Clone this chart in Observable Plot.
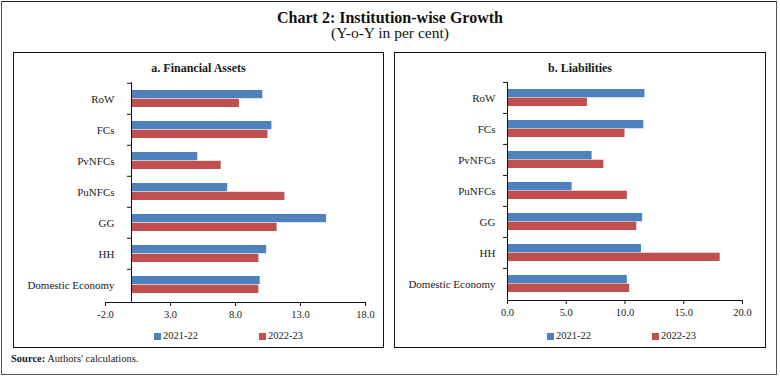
<!DOCTYPE html>
<html><head><meta charset="utf-8">
<script src="https://cdn.jsdelivr.net/npm/d3@7"></script>
<script src="https://cdn.jsdelivr.net/npm/@observablehq/plot@0.6"></script>
<style>
body{margin:0;background:#fff;}
#root{position:relative;width:780px;height:380px;font-family:"Liberation Serif",serif;color:#1a1a1a;overflow:hidden;}
.abs{position:absolute;white-space:nowrap;line-height:1;}
.box{position:absolute;box-sizing:border-box;}
.sq{position:absolute;width:7px;height:7px;}
</style></head><body>
<div id="root">
  <div class="box" style="left:1px;top:1px;width:776px;height:374px;border:1.5px solid #555;border-top-color:#222;"></div>
  <div class="abs" id="title" style="left:0;width:780px;text-align:center;top:10px;font-size:16px;font-weight:bold;color:#111;"></div>
  <div class="abs" id="subtitle" style="left:0;width:780px;text-align:center;top:25.4px;font-size:15.5px;color:#111;"></div>
  <div class="box" style="left:13px;top:52px;width:371px;height:296px;border:1.5px solid #111;"></div>
  <div class="box" style="left:394px;top:52px;width:372px;height:296px;border:1.5px solid #111;"></div>
  <div class="abs" id="ptA" style="left:13px;width:371px;text-align:center;top:61.6px;font-size:12px;font-weight:bold;"></div>
  <div class="abs" id="ptB" style="left:394px;width:372px;text-align:center;top:61.6px;font-size:12px;font-weight:bold;"></div>
  <div id="chartA" style="position:absolute;left:14px;top:60px;"></div>
  <div id="chartB" style="position:absolute;left:395px;top:60px;"></div>
  <div id="legA"></div>
  <div id="legB"></div>
  <div class="abs" id="source" style="left:11px;top:354.2px;font-size:10.5px;"></div>
</div>
<script>
const titleText = "Chart 2: Institution-wise Growth";
const subtitleText = "(Y-o-Y in per cent)";
const panelTitles = ["a. Financial Assets", "b. Liabilities"];
const categories = ["RoW", "FCs", "PvNFCs", "PuNFCs", "GG", "HH", "Domestic Economy"];
const series = ["2021-22", "2022-23"];
const colors = ["#4F81BD", "#C0504D"];
const assets2122 = [10.1, 10.8, 5.1, 7.4, 15.0, 10.4, 9.9];
const assets2223 = [8.3, 10.5, 6.9, 11.8, 11.2, 9.8, 9.8];
const liab2122 = [11.7, 11.6, 7.2, 5.5, 11.5, 11.4, 10.2];
const liab2223 = [6.8, 10.0, 8.2, 10.2, 11.0, 18.1, 10.4];
const assetDomain = [-2, 18];
const assetTicks = [-2, 3, 8, 13, 18];
const liabDomain = [0, 20];
const liabTicks = [0, 5, 10, 15, 20];

document.getElementById("title").textContent = titleText;
document.getElementById("subtitle").textContent = subtitleText;
document.getElementById("ptA").textContent = panelTitles[0];
document.getElementById("ptB").textContent = panelTitles[1];
document.getElementById("source").innerHTML = "<b>Source:</b> Authors' calculations.";

function rows(a, b) {
  const out = [];
  categories.forEach((c, i) => {
    out.push({cat: c, series: series[0], value: a[i]});
    out.push({cat: c, series: series[1], value: b[i]});
  });
  return out;
}

function panel(cfg) {
  const data = rows(cfg.a, cfg.b);
  const pad = 0.44;
  const step = (cfg.height - cfg.mt - cfg.mb) / categories.length;
  const half = step * (1 - pad) / 2;
  return Plot.plot({
    width: cfg.width, height: cfg.height,
    marginTop: cfg.mt, marginBottom: cfg.mb, marginLeft: cfg.ml, marginRight: cfg.mr,
    style: {fontFamily: "Liberation Serif, serif", fontSize: "10.5px", background: "transparent", color: "#1a1a1a"},
    x: {domain: cfg.domain, axis: null},
    y: {domain: categories, paddingInner: pad, paddingOuter: pad / 2, axis: null},
    color: {domain: series, range: colors},
    marks: [
      Plot.barX(data.filter(d => d.series === series[0]), {x: "value", y: "cat", fill: "series", insetBottom: half}),
      Plot.barX(data.filter(d => d.series === series[1]), {x: "value", y: "cat", fill: "series", insetTop: half}),
      Plot.ruleX([0], {stroke: "#111", strokeWidth: 1}),
      Plot.ruleY(categories, {y: d => d, x1: 0, x2: 0, insetLeft: -4, dy: -step / 2, stroke: "#111"}),
      Plot.frame({anchor: "bottom", stroke: "#111"}),
      Plot.axisX({ticks: cfg.ticks, tickFormat: d => d.toFixed(1), tickSize: 4, tickPadding: 4, stroke: "#111", label: null}),
      Plot.text(categories, {y: d => d, x: 0, text: d => d, textAnchor: "end", dx: cfg.labelDx, fill: "#1a1a1a", fontSize: 11})
    ]
  });
}

document.getElementById("chartA").appendChild(panel({
  a: assets2122, b: assets2223, domain: assetDomain, ticks: assetTicks,
  width: 369, height: 270, mt: 22, mb: 28, ml: 91, mr: 18, labelDx: -17
}));
document.getElementById("chartB").appendChild(panel({
  a: liab2122, b: liab2223, domain: liabDomain, ticks: liabTicks,
  width: 370, height: 270, mt: 22, mb: 30, ml: 112, mr: 23, labelDx: -12
}));

function legend(el, xs) {
  series.forEach((s, i) => {
    const sq = document.createElement("div");
    sq.className = "sq";
    sq.style.left = xs[i] + "px"; sq.style.top = "333px"; sq.style.background = colors[i];
    el.appendChild(sq);
    const t = document.createElement("div");
    t.className = "abs";
    t.style.left = (xs[i] + 9) + "px"; t.style.top = "331.2px"; t.style.fontSize = "10.5px";
    t.textContent = s;
    el.appendChild(t);
  });
}
legend(document.getElementById("legA"), [154, 259]);
legend(document.getElementById("legB"), [547, 652]);
</script>
</body></html>
